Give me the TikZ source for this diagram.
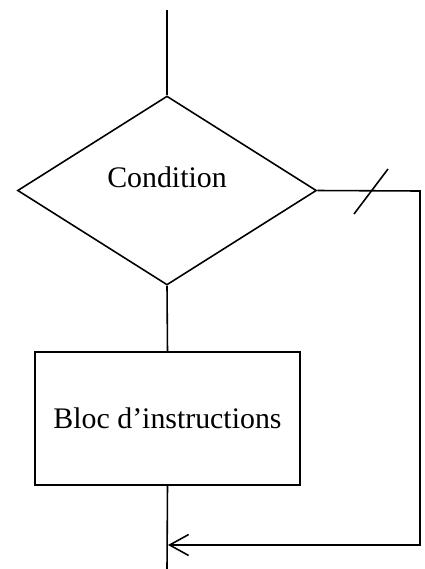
\documentclass[tikz,border=0pt]{standalone}
\usepackage{fontspec}
\setmainfont{Liberation Serif}
\usetikzlibrary{shapes.geometric,arrows.meta}

\begin{document}
\begin{tikzpicture}[x=0.02cm,y=-0.02cm,line width=0.9pt,
  every node/.style={font=\fontsize{17}{20}\selectfont},
  test/.style={diamond,draw,inner sep=0pt,minimum width=5.98cm,minimum height=3.78cm},
  bloc/.style={rectangle,draw,minimum width=5.3cm,minimum height=2.66cm}]
\useasboundingbox (0,0) rectangle (425,569);
\node [test] (cond) at (167,190.5) {};
\node (condtxt) at (167,177) {Condition};
\node [bloc] (instr) at (167.5,418.5) {Bloc d’instructions};
\coordinate (haut) at (167,10);
\coordinate (bas) at (167,569);
\coordinate (coin1) at (420,191);
\coordinate (coin2) at (420,545);
\coordinate (fin) at (168,545);
\draw (haut) -- (cond.north);
\draw (cond.south) -- (instr.north);
\draw (instr.south) -- (bas);
\draw [-{Straight Barb[length=3.8mm,width=4.2mm]}] (cond.east) -- (coin1) -- (coin2) -- (fin);
\draw (354,214) -- (388,169);
\end{tikzpicture}
\end{document}
